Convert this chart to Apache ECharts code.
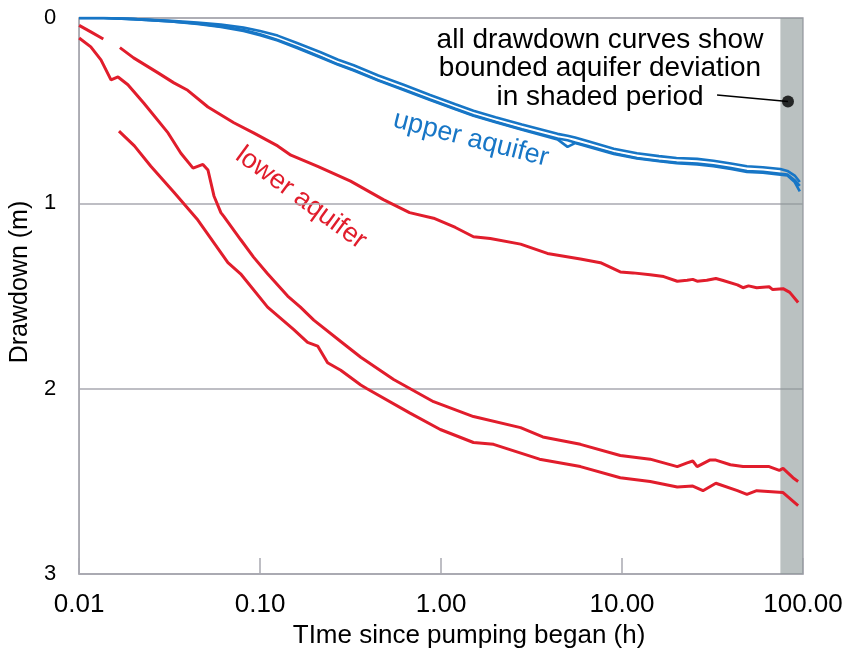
<!DOCTYPE html>
<html>
<head>
<meta charset="utf-8">
<script src="https://cdn.jsdelivr.net/npm/echarts@6/dist/echarts.min.js"></script>
<style>
  html, body { margin: 0; padding: 0; background: #fff; }
  #container { width: 849px; height: 654px; }
</style>
</head>
<body>
<div id="container"></div>
<script>
// time (h) and drawdown (m)
var blueT    = [0.01, 0.0137, 0.02, 0.0322, 0.045, 0.0607, 0.081, 0.1, 0.125, 0.16, 0.216, 0.27, 0.329, 0.45, 0.621, 0.87, 1.2, 1.51, 2.0, 2.8, 4.4, 5.0, 5.5, 6.5, 9, 12.1, 16, 20, 26, 32, 40, 49, 60, 75, 82, 90, 96];
var blueTop  = [0, 0, 0.005, 0.015, 0.025, 0.035, 0.052, 0.07, 0.095, 0.135, 0.185, 0.225, 0.255, 0.31, 0.36, 0.415, 0.465, 0.5, 0.535, 0.575, 0.625, 0.635, 0.645, 0.665, 0.705, 0.73, 0.745, 0.755, 0.76, 0.77, 0.785, 0.8, 0.805, 0.815, 0.825, 0.85, 0.885];
var blueMid  = [0, 0, 0.006, 0.018, 0.03, 0.045, 0.065, 0.088, 0.118, 0.158, 0.21, 0.25, 0.28, 0.335, 0.385, 0.44, 0.49, 0.525, 0.56, 0.6, 0.65, 0.66, 0.672, 0.69, 0.73, 0.755, 0.77, 0.78, 0.785, 0.795, 0.81, 0.825, 0.83, 0.84, 0.845, 0.875, 0.905];
var blueLow  = [0, 0, 0.006, 0.018, 0.032, 0.048, 0.07, 0.093, 0.122, 0.162, 0.213, 0.253, 0.283, 0.338, 0.388, 0.443, 0.493, 0.528, 0.563, 0.603, 0.655, 0.695, 0.675, 0.695, 0.733, 0.758, 0.773, 0.783, 0.79, 0.8, 0.815, 0.83, 0.835, 0.845, 0.85, 0.885, 0.935];

var redA1T = [0.01, 0.0116, 0.0136];
var redA1  = [0.04, 0.075, 0.113];
var redA2T = [0.0168, 0.02, 0.0273, 0.0334, 0.0398, 0.0515, 0.0716, 0.092, 0.125, 0.148, 0.208, 0.316, 0.48, 0.67, 0.909, 1.2, 1.51, 1.87, 2.75, 3.87, 5.89, 7.6, 9.78, 11.5, 14.3, 17, 20.2, 22.9, 24.6, 26, 29.4, 33, 35.8, 43.4, 46.6, 50, 55.5, 65, 68, 77.6, 84.5, 94];
var redA2  = [0.16, 0.215, 0.296, 0.35, 0.39, 0.48, 0.565, 0.62, 0.69, 0.74, 0.80, 0.88, 0.98, 1.05, 1.08, 1.13, 1.18, 1.19, 1.22, 1.27, 1.30, 1.32, 1.37, 1.375, 1.385, 1.395, 1.42, 1.415, 1.41, 1.42, 1.415, 1.405, 1.415, 1.44, 1.455, 1.445, 1.455, 1.45, 1.465, 1.46, 1.48, 1.535];

var redBT = [0.01, 0.0116, 0.0132, 0.015, 0.0164, 0.0186, 0.0228, 0.031, 0.0365, 0.0426, 0.0483, 0.0515, 0.0556, 0.0607, 0.063, 0.078, 0.092, 0.11, 0.142, 0.167, 0.198, 0.279, 0.36, 0.547, 0.909, 1.51, 2.75, 3.65, 5.89, 9.78, 14.3, 20.2, 22.9, 24.6, 26, 30.5, 33, 39.7, 46.6, 51, 55.5, 65, 74, 77.6, 88, 94];
var redB  = [0.108, 0.156, 0.226, 0.334, 0.318, 0.36, 0.46, 0.62, 0.73, 0.81, 0.79, 0.82, 0.96, 1.05, 1.07, 1.195, 1.29, 1.38, 1.50, 1.56, 1.63, 1.745, 1.83, 1.95, 2.07, 2.15, 2.21, 2.26, 2.30, 2.36, 2.38, 2.42, 2.40, 2.39, 2.42, 2.385, 2.385, 2.41, 2.42, 2.42, 2.42, 2.42, 2.44, 2.43, 2.48, 2.50];

var redCT = [0.0166, 0.0202, 0.0249, 0.0334, 0.0453, 0.0664, 0.078, 0.11, 0.153, 0.183, 0.208, 0.236, 0.279, 0.36, 0.39, 0.67, 0.99, 1.51, 1.95, 3.5, 5.89, 9.78, 14.3, 20.2, 24.6, 28, 33, 43.4, 49, 55.5, 77.6, 94];
var redC  = [0.61, 0.69, 0.80, 0.94, 1.09, 1.32, 1.38, 1.56, 1.68, 1.75, 1.77, 1.86, 1.90, 1.98, 2.00, 2.13, 2.22, 2.29, 2.30, 2.38, 2.42, 2.48, 2.50, 2.53, 2.525, 2.55, 2.51, 2.55, 2.57, 2.55, 2.56, 2.63];

var xTicks = [0.01, 0.1, 1, 10, 100];
var yTicks = [0, 1, 2, 3];
var shadeFrom = 75, shadeTo = 100;
var notePoint = [82.6, 0.45];
var noteLineStart = [33.5, 0.415];

var RED = '#e11d2c';
var BLUE = '#1776c6';
var GRIDC = '#a9a9b1';
var FONT = 'Arial, "Liberation Sans", sans-serif';

function zip(xs, ys) {
    return xs.map(function (x, i) { return [x, ys[i]]; });
}

function curve(name, xs, ys, color, width) {
    return {
        name: name,
        type: 'line',
        data: zip(xs, ys),
        showSymbol: false,
        symbol: 'none',
        smooth: false,
        z: 3,
        lineStyle: { color: color, width: width },
        silent: true
    };
}

var myChart = echarts.init(document.getElementById('container'));

var option = {
    animation: false,
    backgroundColor: '#fff',
    grid: {
        left: 78, right: 46, top: 18, bottom: 79,
        show: true, borderColor: GRIDC, borderWidth: 1.5
    },
    xAxis: {
        type: 'log',
        logBase: 10,
        min: xTicks[0],
        max: xTicks[xTicks.length - 1],
        name: 'TIme since pumping began (h)',
        nameLocation: 'middle',
        nameGap: 44,
        nameTextStyle: { fontSize: 26, color: '#000', fontFamily: FONT, padding: [0, 0, 0, 56] },
        axisLine: { show: true, onZero: false, lineStyle: { color: GRIDC, width: 1.5 } },
        axisTick: { show: true, inside: true, length: 16, lineStyle: { color: GRIDC, width: 1.5 } },
        splitLine: { show: false },
        axisLabel: {
            fontSize: 26, color: '#000', fontFamily: FONT, margin: 18,
            formatter: function (v) { return Number(v).toFixed(2); }
        }
    },
    yAxis: {
        type: 'value',
        inverse: true,
        min: yTicks[0],
        max: yTicks[yTicks.length - 1],
        interval: 1,
        name: 'Drawdown (m)',
        nameLocation: 'middle',
        nameRotate: 90,
        nameGap: 44,
        nameTextStyle: { fontSize: 25, color: '#000', fontFamily: FONT, padding: [0, 0, 0, 28] },
        axisLine: { show: true, onZero: false, lineStyle: { color: GRIDC, width: 1.5 } },
        axisTick: { show: false },
        splitLine: { show: true, lineStyle: { color: GRIDC, width: 1.5 } },
        axisLabel: {
            fontSize: 22, color: '#000', fontFamily: FONT, margin: 23,
            formatter: function (v) { return String(v); }
        }
    },
    graphic: [
        {
            type: 'text', x: 600, y: 26, silent: true,
            style: {
                text: 'all drawdown curves show\nbounded aquifer deviation\nin shaded period',
                font: '28px ' + FONT, fill: '#000',
                align: 'center', verticalAlign: 'top', lineHeight: 28.5
            }
        },
        {
            type: 'text', x: 471, y: 139, rotation: -0.25, silent: true,
            style: {
                text: 'upper aquifer', font: '27px ' + FONT, fill: BLUE,
                align: 'center', verticalAlign: 'middle'
            }
        },
        {
            type: 'text', x: 301, y: 198, rotation: -0.63, silent: true,
            style: {
                text: 'lower aquifer', font: '27px ' + FONT, fill: RED,
                align: 'center', verticalAlign: 'middle'
            }
        }
    ],
    series: [
        {
            name: 'shade',
            type: 'line',
            data: [],
            z: 1,
            silent: true,
            markArea: {
                silent: true,
                itemStyle: { color: 'rgba(140,152,152,0.6)' },
                data: [[{ xAxis: shadeFrom }, { xAxis: shadeTo }]]
            }
        },
        curve('upper 1', blueT, blueTop, BLUE, 2.6),
        curve('upper 2', blueT, blueMid, BLUE, 2.6),
        curve('upper 3', blueT, blueLow, BLUE, 2.6),
        curve('lower A1', redA1T, redA1, RED, 3),
        curve('lower A2', redA2T, redA2, RED, 3),
        curve('lower B', redBT, redB, RED, 3),
        curve('lower C', redCT, redC, RED, 3),
        {
            name: 'note',
            type: 'scatter',
            data: [notePoint],
            symbolSize: 12,
            z: 5,
            silent: true,
            itemStyle: { color: '#000' },
            markLine: {
                silent: true,
                symbol: 'none',
                label: { show: false },
                lineStyle: { color: '#000', width: 1.5, type: 'solid' },
                data: [[{ coord: noteLineStart }, { coord: notePoint }]]
            }
        }
    ]
};

myChart.setOption(option);
</script>
</body>
</html>
